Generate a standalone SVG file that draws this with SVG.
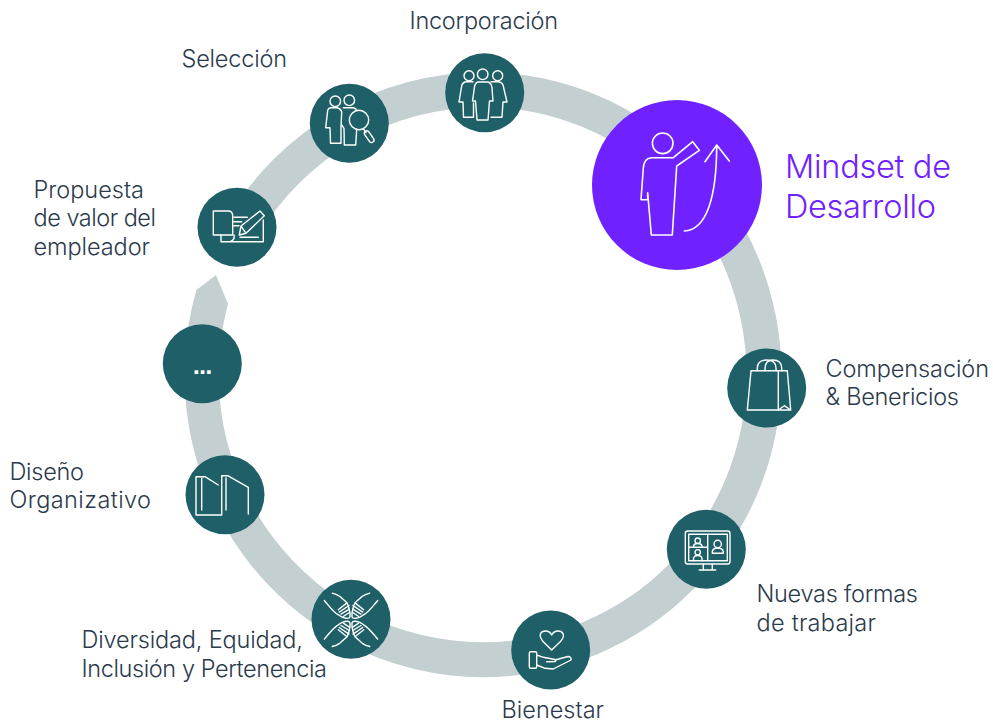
<svg xmlns="http://www.w3.org/2000/svg" width="993" height="722" viewBox="0 0 993 722">
<style>
.n{fill:#1f5f68}
.i{fill:none;stroke:#fff;stroke-width:1.4;stroke-linejoin:round;stroke-linecap:round}
.t{font-family:"Inter","Liberation Sans",sans-serif;font-weight:300;font-size:23.5px;fill:#2b3a4c}
.m{font-family:"Inter","Liberation Sans",sans-serif;font-weight:300;font-size:32.5px;fill:#6f22ff}
</style>
<defs>
<g id="hand">
<path d="M-26.7,-19.3C-22,-14 -18,-8 -12.7,-5Q-9,-2 -5,-1.5Q-1.5,-1 -1,-3V-7Q-2,-13 -4,-17L-11,-23.3Q-14,-25.5 -18.7,-26.7"/>
<path d="M-12.7,-10L-4.3,-16.7M-11.7,-7.7L-2,-14.3M-10,-5.7L-1.7,-10.7M-7.7,-3.3L-1.7,-7.3"/>
</g>
</defs>
<g id="connectors">
<path id="ring" fill="#c3cfd0" d="M196.4,290A298.5,302.5 0 0 0 483,677.2A298.5,302.5 0 0 0 781.5,374.7A298.5,302.5 0 0 0 483,72.2A298.5,302.5 0 0 0 227.5,218.6L257.4,236.7A263.5,267.5 0 0 1 483,107.2A263.5,267.5 0 0 1 746.5,374.7A263.5,267.5 0 0 1 483,642.2A263.5,267.5 0 0 1 228,304L216,275Z"/>
</g>
<g id="mindset">
<circle cx="677" cy="185" r="85" fill="#6f22ff"/>
<g class="i" style="stroke-width:1.6">
<circle cx="662.7" cy="143.3" r="10.3"/>
<path d="M692.7,141.7L699.3,150.3L676.7,166L672.3,235H651.3L648.3,200L647.7,192.7V199.8H641L643.3,168.3Q644,158 651.7,157.7H673.3Z"/>
<path d="M684.3,231C706.7,230 716.7,196.7 716.7,145M705,161.7L716.7,145L729.3,161"/>
</g>
<text class="m" x="785" y="177.5" textLength="166">Mindset de</text>
<text class="m" x="785" y="218" textLength="151">Desarrollo</text>
</g>
<g id="incorporacion">
<circle class="n" cx="484.7" cy="92.7" r="39.5"/>
<g class="i">
<circle cx="469" cy="75.7" r="5"/><circle cx="482.7" cy="74.3" r="5.3"/><circle cx="497.7" cy="75.7" r="5"/>
<path d="M473,81.7H467Q462,81.7 461.5,87L459,102H463L463.5,117.3H473.5V103"/>
<path d="M478,82H488Q491.5,83 492,88L493,101H489.5L488,120H477L475.5,101H472.5L474.5,87Q475,83 478,82Z"/>
<path d="M491,81.7H498Q503,82 503.5,87L507,102H503L502,117.3H491"/>
</g>
<text class="t" x="409.5" y="28.5" textLength="148.5">Incorporación</text>
</g>
<g id="seleccion">
<circle class="n" cx="349.3" cy="123.3" r="39.5"/>
<g class="i">
<circle cx="335.3" cy="101.3" r="5.3"/><circle cx="349.3" cy="100.3" r="5.3"/>
<path d="M341.7,111.7Q340,108 337,107.7H331Q327.5,108 327.5,112L325.7,127.7H330L330.5,143.3H341V127L341.7,111.7"/>
<path d="M343.3,107.7H353Q356,108 357,110.5M341.7,125L344,128.3L344.3,145H355.7L356.7,129.3"/>
<circle cx="359" cy="120" r="9.7"/>
<path d="M363.5,129L366,132.5"/>
<rect x="362.7" y="134.2" width="13" height="5" rx="2.5" transform="rotate(55 369.2 136.7)"/>
</g>
<text class="t" x="181.5" y="66.5" textLength="105.5">Selección</text>
</g>
<g id="propuesta">
<circle class="n" cx="237" cy="227.3" r="39.5"/>
<g class="i">
<path d="M232.7,235H213.3V211H228Q232.7,211 232.7,216V235"/>
<path d="M221,235V241.7H263.3V220M234,235Q235,240 230,241.7"/>
<path d="M234,217.3H247.3M234,221.7H241.7M234,225.7H239M240,237.3H258.3"/>
<path d="M239.3,235L241,226L260,211L264.3,215.7L246,233.3ZM241,226L246,233.3"/>
</g>
<text class="t" x="33.5" y="197.5" textLength="110.5">Propuesta</text>
<text class="t" x="33.5" y="225.5" textLength="122.5">de valor del</text>
<text class="t" x="33.5" y="254.5" textLength="116.5">empleador</text>
</g>
<g id="puntos">
<circle class="n" cx="202.3" cy="363.7" r="39.5"/>
<text x="202.5" y="374" text-anchor="middle" font-family="DejaVu Sans, sans-serif" font-weight="700" font-size="20" fill="#fff" textLength="20">...</text>
</g>
<g id="diseno">
<circle class="n" cx="225" cy="494.7" r="39.5"/>
<g class="i">
<path d="M218.3,485L205,476.7H196V515H221.7V475.7H227.7L248.3,487.3V514"/>
<path d="M201.7,478V510M226,478V510"/>
</g>
<text class="t" x="9.5" y="479.5" textLength="74.5">Diseño</text>
<text class="t" x="9.5" y="507.5" textLength="141.5">Organizativo</text>
</g>
<g id="diversidad">
<circle class="n" cx="351" cy="619.3" r="39.5"/>
<g class="i">
<use href="#hand" transform="translate(351,619.8)"/>
<use href="#hand" transform="translate(351,619.8) scale(-1,1)"/>
<use href="#hand" transform="translate(351,619.8) scale(1,-1)"/>
<use href="#hand" transform="translate(351,619.8) scale(-1,-1)"/>
</g>
<text class="t" x="81.5" y="647.5" textLength="221.5">Diversidad, Equidad,</text>
<text class="t" x="81.5" y="676.5" textLength="245.5">Inclusión y Pertenencia</text>
</g>
<g id="bienestar">
<circle class="n" cx="550.7" cy="650" r="39.5"/>
<g class="i">
<path d="M551.7,650L543,641.5C537,634 542,631 545.5,631C548.5,631 550.5,632.5 551.7,635C553,632.5 555,631 558,631C562,631 566.5,634.5 560.5,641.5Z"/>
<rect x="529.3" y="651.7" width="7.4" height="16.6" rx="1.5"/>
<path d="M536.7,655L543.3,657.3L555,659.5Q556.5,661 555,661.5L546.7,661.7M555,660L568,656.5Q571.5,656.5 571,660L553.3,669L545,668.3L536.7,665"/>
</g>
<text class="t" x="501.5" y="717.5" textLength="102.5">Bienestar</text>
</g>
<g id="nuevas">
<circle class="n" cx="706.3" cy="549.3" r="39.5"/>
<g class="i">
<rect x="685.3" y="531" width="44.7" height="33" rx="2.5"/>
<path d="M688.7,534.3H727.3V560.7H688.7ZM707.7,534.3V560.7M688.7,547.3H707.7M703.3,564V570M712.3,564V570M699.3,570H715.7"/>
<circle cx="697.7" cy="540.7" r="2.7"/>
<path d="M693.5,547.3V546Q694,543.5 697.7,543.5Q701.5,543.5 702,546V547.3"/>
<circle cx="697.7" cy="552.3" r="2.7"/>
<path d="M693.5,560.7V558.5Q694,555.5 697.7,555.5Q701.5,555.5 702,558.5V560.7"/>
<circle cx="717.7" cy="544" r="3.7"/>
<path d="M712.3,553.3V551.5Q713,548 717.7,548Q722.5,548 723.3,551.5V553.3Z"/>
</g>
<text class="t" x="756.5" y="601.5" textLength="161.5">Nuevas formas</text>
<text class="t" x="756.5" y="630.5" textLength="119.5">de trabajar</text>
</g>
<g id="compensacion">
<circle class="n" cx="766.7" cy="388" r="39.5"/>
<g class="i">
<path d="M751,370.7H778.3V410H747.3Z"/>
<path d="M778.3,370.7H787.3L790.7,410H778.3L784.3,405.7L790.7,410"/>
<path d="M757.3,370.7V368Q757.5,360 766.5,360Q776,360 776,368V370.7"/>
<path d="M765,370.7V368Q765.5,360 773,360Q781.5,360 781.7,368V370.7"/>
</g>
<text class="t" x="825.5" y="376.5" textLength="163.5">Compensación</text>
<text class="t" x="825.5" y="404.5" textLength="133.5">&amp; Benericios</text>
</g>
</svg>
